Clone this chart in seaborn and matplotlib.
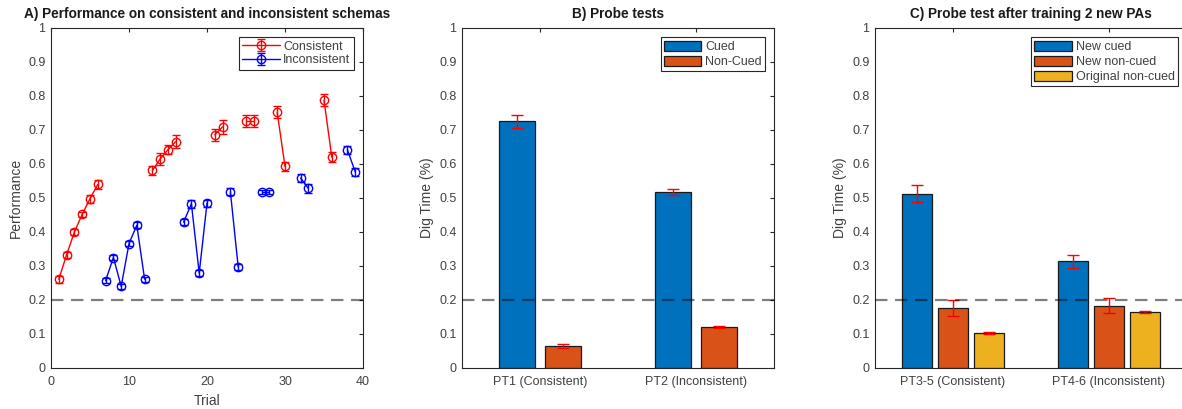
import numpy as np
import pandas as pd
import matplotlib
matplotlib.use("Agg")
import matplotlib.pyplot as plt
import seaborn as sns
from matplotlib.lines import Line2D
from matplotlib.patches import Patch
from matplotlib.legend_handler import HandlerTuple

# ---------------- data ----------------
trials_con = [1, 2, 3, 4, 5, 6, 13, 14, 15, 16, 21, 22, 25, 26, 29, 30, 35, 36]
perf_con = [0.261, 0.333, 0.400, 0.452, 0.498, 0.540, 0.581, 0.615, 0.642, 0.666,
            0.686, 0.709, 0.727, 0.727, 0.752, 0.593, 0.788, 0.620]
err_con = [0.010, 0.009, 0.008, 0.008, 0.012, 0.014, 0.013, 0.018, 0.013, 0.019,
           0.017, 0.020, 0.018, 0.018, 0.018, 0.014, 0.018, 0.015]
block_con = [1, 1, 1, 1, 1, 1, 2, 2, 2, 2, 3, 3, 4, 4, 5, 5, 6, 6]

trials_inc = [7, 8, 9, 10, 11, 12, 17, 18, 19, 20, 23, 24, 27, 28, 32, 33, 38, 39]
perf_inc = [0.257, 0.325, 0.240, 0.366, 0.420, 0.261, 0.429, 0.483, 0.279, 0.485,
            0.518, 0.297, 0.518, 0.518, 0.559, 0.528, 0.642, 0.577]
err_inc = [0.008, 0.008, 0.008, 0.008, 0.008, 0.008, 0.008, 0.011, 0.008, 0.010,
           0.010, 0.008, 0.006, 0.006, 0.011, 0.012, 0.012, 0.011]
block_inc = [1, 1, 1, 1, 1, 1, 2, 2, 2, 2, 3, 3, 4, 4, 5, 5, 6, 6]

schemas = ["Consistent", "Inconsistent"]
chance = 0.2

probe_b = ["PT1 (Consistent)", "PT2 (Inconsistent)"]
groups_b = ["Cued", "Non-Cued"]
cued_b = [0.726, 0.518]
cued_b_err = [0.019, 0.009]
noncued_b = [0.066, 0.121]
noncued_b_err = [0.006, 0.002]

probe_c = ["PT3-5 (Consistent)", "PT4-6 (Inconsistent)"]
groups_c = ["New cued", "New non-cued", "Original non-cued"]
newcued_c = [0.512, 0.314]
newcued_c_err = [0.025, 0.019]
newnon_c = [0.176, 0.183]
newnon_c_err = [0.024, 0.022]
orignon_c = [0.103, 0.165]
orignon_c_err = [0.002, 0.002]

# ---------------- style ----------------
sns.set_style("white")
plt.rcParams["font.family"] = ["Liberation Sans", "DejaVu Sans"]
AX_COL = "#262626"
TXT_COL = "#404040"
plt.rcParams.update({
    "axes.edgecolor": AX_COL,
    "axes.linewidth": 0.8,
    "xtick.color": AX_COL,
    "ytick.color": AX_COL,
    "xtick.labelcolor": TXT_COL,
    "ytick.labelcolor": TXT_COL,
    "axes.labelcolor": TXT_COL,
    "font.size": 9,
})
mat_colors = ["#0072BD", "#D95319", "#EDB120"]

W, H = 1182, 409
fig = plt.figure(figsize=(W / 100, H / 100), dpi=100)


def pos(left, right, top=28, bottom=368):
    return [left / W, (H - bottom) / H, (right - left) / W, (bottom - top) / H]


axA = fig.add_axes(pos(51, 363))
axB = fig.add_axes(pos(462, 774))
axC = fig.add_axes(pos(875, 1187))


def style_axes(ax):
    ax.set_ylim(0, 1)
    yt = np.round(np.arange(0, 1.01, 0.1), 1)
    ax.set_yticks(yt)
    ax.set_yticklabels([f"{v:g}" for v in yt])
    ax.tick_params(direction="in", top=True, right=True, length=3, width=0.8,
                   labelsize=9, pad=4)
    ax.tick_params(axis="x", pad=6)
    for s in ax.spines.values():
        s.set_visible(True)
        s.set_color(AX_COL)
        s.set_linewidth(0.8)


def chance_line(ax):
    ax.axhline(chance, color="k", alpha=0.5, lw=1.6, ls=(0, (5.6, 3.4)), zorder=5)


# ---------------- panel A ----------------
dfA = pd.concat([
    pd.DataFrame({"Trial": trials_con, "Performance": perf_con, "err": err_con,
                  "block": block_con, "schema": schemas[0]}),
    pd.DataFrame({"Trial": trials_inc, "Performance": perf_inc, "err": err_inc,
                  "block": block_inc, "schema": schemas[1]}),
], ignore_index=True)
colA = {"Consistent": "#FF0000", "Inconsistent": "#0000FF"}

sns.lineplot(data=dfA, x="Trial", y="Performance", hue="schema", units="block",
             estimator=None, palette=colA, marker="o", markersize=6,
             markerfacecolor="none", markeredgewidth=1.0, lw=1.0, ax=axA,
             legend=False)
for ln in axA.lines:
    ln.set_markeredgecolor(ln.get_color())
    ln.set_markerfacecolor("none")

handlesA = []
for sch in schemas:
    sub = dfA[dfA["schema"] == sch]
    eb = axA.errorbar(sub["Trial"], sub["Performance"], yerr=sub["err"], fmt="none",
                      ecolor=colA[sch], elinewidth=1.0, capsize=3, capthick=1.0)
    proxy = Line2D([], [], color=colA[sch], lw=1.0, marker="o", markersize=6,
                   markerfacecolor="none", markeredgecolor=colA[sch])
    handlesA.append((proxy, eb))

chance_line(axA)
style_axes(axA)
axA.set_xlim(0, 40)
axA.set_xticks([0, 10, 20, 30, 40])
axA.set_xlabel("Trial", fontsize=10, labelpad=4)
axA.set_ylabel("Performance", fontsize=10, labelpad=4)
axA.set_title("A) Performance on consistent and inconsistent schemas",
              fontsize=9.8, fontweight="bold", pad=7, color="#1a1a1a")
legA = axA.legend(handlesA, schemas, handler_map={tuple: HandlerTuple(ndivide=1)},
                  loc="upper right", fontsize=9, frameon=True, fancybox=False,
                  framealpha=1, edgecolor=AX_COL, borderaxespad=0.75,
                  handlelength=3.0, borderpad=0.25, labelspacing=0.15,
                  handletextpad=0.3)
legA.get_frame().set_linewidth(0.8)
for t in legA.get_texts():
    t.set_color(TXT_COL)


# ---------------- bar panels ----------------
def bar_panel(ax, conds, groups, values, errs, width, gap, title, legend_kw):
    rows = []
    for g, vals in zip(groups, values):
        for c, v in zip(conds, vals):
            rows.append({"cond": c, "group": g, "value": v})
    df = pd.DataFrame(rows)
    pal = dict(zip(groups, mat_colors[:len(groups)]))
    sns.barplot(data=df, x="cond", y="value", hue="group", order=conds,
                hue_order=groups, palette=pal, width=width, gap=gap,
                edgecolor="#1a1a1a", linewidth=0.9, errorbar=None, ax=ax,
                legend=False, saturation=1)
    for cont, e in zip(ax.containers, errs):
        xs = [p.get_x() + p.get_width() / 2 for p in cont.patches]
        ys = [p.get_height() for p in cont.patches]
        ax.errorbar(xs, ys, yerr=e, fmt="none", ecolor="#FF0000", elinewidth=1.0,
                    capsize=4, capthick=1.0, zorder=4)
    chance_line(ax)
    style_axes(ax)
    ax.set_xlim(-0.5, 1.5)
    ax.set_xlabel("")
    ax.set_ylabel("Dig Time (%)", fontsize=10, labelpad=4)
    ax.set_title(title, fontsize=9.8, fontweight="bold", pad=7, color="#1a1a1a")
    handles = [Patch(facecolor=pal[g], edgecolor="#1a1a1a", linewidth=0.9) for g in groups]
    leg = ax.legend(handles, groups, loc="upper right", fontsize=9, frameon=True,
                    fancybox=False, framealpha=1, edgecolor=AX_COL,
                    handlelength=3.0, handleheight=0.9, borderpad=0.25,
                    labelspacing=0.2, handletextpad=0.3, **legend_kw)
    leg.get_frame().set_linewidth(0.8)
    for t in leg.get_texts():
        t.set_color(TXT_COL)


bar_panel(axB, probe_b, groups_b, [cued_b, noncued_b], [cued_b_err, noncued_b_err],
          width=0.588, gap=0.22, title="B) Probe tests",
          legend_kw={"borderaxespad": 0.75})
bar_panel(axC, probe_c, groups_c, [newcued_c, newnon_c, orignon_c],
          [newcued_c_err, newnon_c_err, orignon_c_err],
          width=0.69, gap=0.17, title="C) Probe test after training 2 new PAs",
          legend_kw={"borderaxespad": 0.75})

fig.savefig("out.png", dpi=100)
